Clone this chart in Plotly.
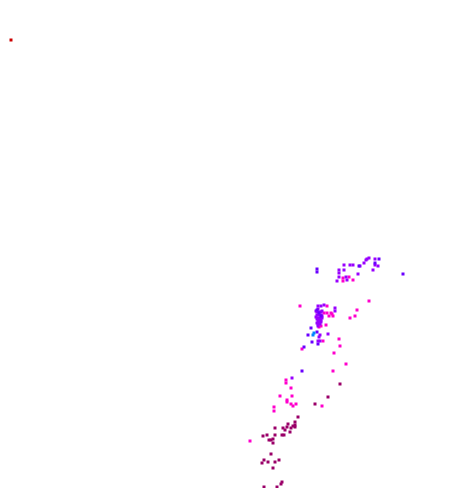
import plotly.graph_objects as go

# Point positions (x, y in image-like data units) grouped by colour class
red_x = [11]
red_y = [40]

indigo_x = [317, 317, 359, 375, 379, 403, 311, 308, 317, 312, 318, 304, 302, 317, 319, 321]
indigo_y = [269, 272, 266, 263, 259, 274, 328, 335, 332, 342, 344, 347, 371, 310, 313, 316]

blue_x = [313, 314]
blue_y = [335, 333]

purple_x = [339, 339, 344, 344, 350, 353, 366, 369, 364, 358, 339, 346, 347, 337, 367, 375, 375, 378, 373, 360,
            318, 318, 321, 324, 335, 335,
            317, 319, 321, 317, 319, 321, 318, 320, 322, 318, 320, 318, 320, 318,
            316, 322, 316, 322, 317, 319, 321, 317, 319, 321,
            320, 319, 328, 318, 320, 292]
purple_y = [270, 273, 265, 270, 265, 265, 260, 258, 263, 274, 277, 277, 280, 281, 259, 259, 265, 266, 270, 266,
            306, 309, 306, 305, 308, 311,
            312, 312, 312, 315, 315, 315, 318, 318, 318, 321, 321, 324, 324, 326,
            311, 311, 317, 316, 319, 320, 320, 323, 322, 322,
            335, 337, 334, 341, 341, 378]

magenta_x = [343, 343, 349, 353, 300, 327, 324, 327, 329, 332, 326, 339, 323, 340, 302, 334, 369, 357, 331, 333,
             350, 355, 346, 333, 286, 286, 291, 280, 292, 287, 287, 296, 291, 293, 322, 274, 274, 250, 319, 321]
magenta_y = [281, 278, 277, 280, 306, 306, 313, 313, 316, 314, 325, 339, 341, 346, 349, 353, 301, 310, 313, 316,
             318, 316, 364, 371, 380, 383, 388, 396, 396, 400, 402, 404, 404, 406, 406, 407, 411, 441, 327, 326]

dark_x = [340, 328, 315, 298, 295, 295, 275, 283, 287, 288, 291, 293, 295, 285, 290, 263, 267, 275, 282, 284,
          269, 271, 273, 273, 271, 264, 262, 268, 275, 279, 273, 282, 281, 277, 264]
dark_y = [384, 397, 404, 417, 422, 425, 428, 428, 427, 424, 428, 426, 427, 430, 432, 436, 435, 435, 435, 435,
          440, 440, 439, 443, 454, 460, 463, 462, 462, 460, 468, 482, 484, 487, 487]

groups = [
    (dark_x, dark_y, "#9a0068"),
    (magenta_x, magenta_y, "#ff00cc"),
    (purple_x, purple_y, "#9900ff"),
    (indigo_x, indigo_y, "#6a00ff"),
    (blue_x, blue_y, "#0088ff"),
    (red_x, red_y, "#cc0000"),
]

fig = go.Figure()
for xs, ys, col in groups:
    fig.add_trace(go.Scatter(
        x=xs, y=ys, mode="markers",
        marker=dict(symbol="square", size=3, color=col, line=dict(width=0)),
        showlegend=False, hoverinfo="skip",
    ))

# the page body has an 8px margin, so the axis window is offset by 8 units
fig.update_layout(
    width=465, height=488,
    margin=dict(l=0, r=0, t=0, b=0),
    paper_bgcolor="white", plot_bgcolor="white",
    xaxis=dict(range=[8, 473], visible=False),
    yaxis=dict(range=[496, 8], visible=False),
)

fig.write_html("out.html")
